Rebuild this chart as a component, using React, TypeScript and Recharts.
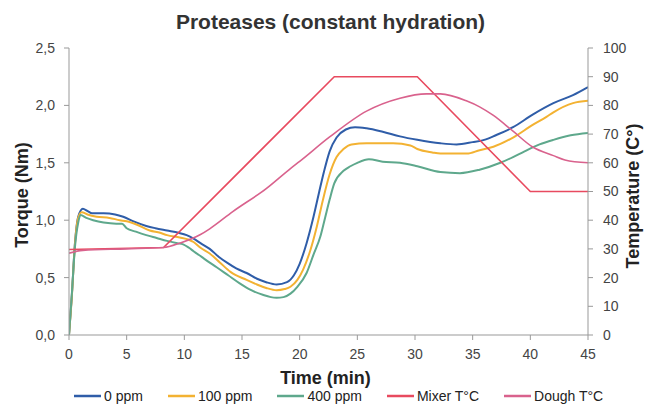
import React from 'react';
import { ComposedChart, Line, XAxis, YAxis, Legend } from 'recharts';

const timeTicks = [0, 5, 10, 15, 20, 25, 30, 35, 40, 45];
const torqueTicks = [0, 0.5, 1, 1.5, 2, 2.5];
const tempTicks = [0, 10, 20, 30, 40, 50, 60, 70, 80, 90, 100];

const seriesNames = ['0 ppm', '100 ppm', '400 ppm', 'Mixer T°C', 'Dough T°C'];
const seriesColors = ['#2f5da8', '#f3b232', '#5ea88c', '#e84a5f', '#d9628d'];

// 0 ppm torque
const time0 = [0, 0.25, 0.5, 0.8, 1.2, 1.6, 2.0, 3.0, 4.0, 4.7, 5.6, 6.7, 7.5, 8.5, 9.5, 10.2, 10.8, 11.4, 12.2, 13.0, 13.7, 14.5, 15.4, 16.3, 17.1, 18.0, 18.9, 19.5, 20.0, 20.6, 21.2, 21.7, 22.1, 22.6, 23.2, 24.0, 24.8, 25.8, 27.2, 28.7, 30.2, 32.2, 33.6, 35.0, 36.0, 37.0, 38.5, 40.2, 42.0, 43.7, 45.0];
const torque0 = [0, 0.35, 0.78, 1.03, 1.10, 1.08, 1.06, 1.06, 1.05, 1.03, 0.99, 0.95, 0.93, 0.91, 0.89, 0.87, 0.84, 0.80, 0.75, 0.68, 0.63, 0.58, 0.54, 0.49, 0.46, 0.44, 0.46, 0.52, 0.62, 0.80, 1.03, 1.25, 1.42, 1.60, 1.72, 1.79, 1.81, 1.80, 1.77, 1.73, 1.70, 1.67, 1.66, 1.68, 1.70, 1.74, 1.81, 1.92, 2.02, 2.09, 2.16];

// 100 ppm torque
const time100 = [0, 0.25, 0.5, 0.8, 1.1, 1.6, 2.4, 3.5, 4.4, 5.0, 5.9, 7.0, 7.9, 8.5, 9.6, 10.4, 10.8, 11.4, 12.2, 13.1, 14.0, 15.4, 16.3, 17.1, 18.0, 18.7, 19.2, 19.8, 20.3, 20.9, 21.5, 22.0, 22.6, 23.2, 23.8, 24.5, 25.8, 28.1, 29.6, 30.2, 31.5, 32.2, 34.5, 35.6, 36.8, 38.5, 40.2, 41.4, 42.0, 43.7, 45.0];
const torque100 = [0, 0.34, 0.77, 1.02, 1.07, 1.05, 1.03, 1.02, 1.00, 0.99, 0.96, 0.91, 0.89, 0.87, 0.85, 0.83, 0.81, 0.76, 0.71, 0.63, 0.55, 0.48, 0.44, 0.41, 0.39, 0.40, 0.42, 0.48, 0.57, 0.73, 0.95, 1.17, 1.40, 1.55, 1.62, 1.66, 1.67, 1.67, 1.65, 1.62, 1.59, 1.58, 1.58, 1.61, 1.64, 1.72, 1.83, 1.90, 1.94, 2.02, 2.04];

// 400 ppm torque
const time400 = [0, 0.23, 0.52, 0.8, 1.0, 1.5, 2.1, 3.0, 4.1, 4.6, 5.0, 5.8, 6.7, 7.6, 8.5, 9.4, 9.9, 10.4, 10.8, 11.5, 12.2, 12.8, 13.8, 14.8, 15.8, 16.8, 17.5, 18.0, 18.6, 19.2, 19.8, 20.6, 21.2, 21.8, 22.2, 22.6, 23.0, 23.8, 24.4, 25.0, 26.0, 27.2, 28.7, 30.2, 32.2, 33.9, 35.6, 37.4, 38.5, 39.5, 40.8, 42.0, 43.5, 45.0];
const torque400 = [0, 0.33, 0.77, 0.98, 1.045, 1.02, 1.00, 0.98, 0.97, 0.97, 0.93, 0.90, 0.87, 0.845, 0.82, 0.80, 0.79, 0.76, 0.73, 0.68, 0.63, 0.59, 0.52, 0.45, 0.39, 0.35, 0.33, 0.325, 0.33, 0.36, 0.42, 0.54, 0.70, 0.86, 1.02, 1.18, 1.32, 1.43, 1.47, 1.50, 1.53, 1.51, 1.50, 1.47, 1.42, 1.41, 1.44, 1.50, 1.55, 1.60, 1.66, 1.70, 1.74, 1.76];

// Mixer temperature
const timeMixer = [0, 8.2, 23.0, 30.2, 40.0, 45.0];
const tempMixer = [29.8, 30.5, 90, 90, 50, 50];

// Dough temperature
const timeDough = [0, 1.2, 5.0, 8.2, 9.6, 11.4, 12.2, 14.2, 17.1, 19.2, 20.0, 22.6, 25.8, 28.7, 31.0, 32.2, 34.5, 35.6, 36.8, 38.5, 40.2, 42.0, 43.0, 45.0];
const tempDough = [28.5, 29.5, 30, 30.5, 32, 35, 37, 43, 51, 58, 60.5, 69, 78, 82.5, 84, 84, 81.5, 79.5, 76.5, 71, 65.5, 62.5, 61, 60];

const zip = (ts: number[], vs: number[]) => ts.map((t, i) => ({ t, v: vs[i] }));

const seriesData = [
  zip(time0, torque0),
  zip(time100, torque100),
  zip(time400, torque400),
  zip(timeMixer, tempMixer),
  zip(timeDough, tempDough),
];
const seriesAxis = ['left', 'left', 'left', 'right', 'right'];
const seriesCurve = ['monotone', 'monotone', 'monotone', 'linear', 'monotone'];

const FONT = '"Liberation Sans", Arial, Helvetica, sans-serif';
const axisTitleStyle = { fontSize: 18, fontWeight: 'bold' as const, fill: '#222', fontFamily: FONT };

const LegendContent = () => (
  <div style={{ display: 'flex', alignItems: 'center', gap: 25, fontFamily: FONT, fontSize: 14, color: '#222', height: 21 }}>
    {seriesNames.map((n, i) => (
      <div key={n} style={{ display: 'flex', alignItems: 'center' }}>
        <svg width={27} height={4} style={{ marginRight: 3 }}>
          <line x1={0} y1={2} x2={27} y2={2} stroke={seriesColors[i]} strokeWidth={2.5} />
        </svg>
        <span>{n}</span>
      </div>
    ))}
  </div>
);

export default function App() {
  return (
    <div style={{ position: 'absolute', left: 0, top: 0, width: 645, height: 406, background: '#fff', fontFamily: FONT }}>
      <div style={{ position: 'absolute', left: 8, top: 9, width: 645, textAlign: 'center', fontSize: 21, fontWeight: 'bold', color: '#333', lineHeight: '26px' }}>
        Proteases (constant hydration)
      </div>
      <ComposedChart width={645} height={406} margin={{ top: 48, right: 0, bottom: 0, left: 0 }}>
        <XAxis
          type="number"
          dataKey="t"
          domain={[0, 45]}
          ticks={timeTicks}
          allowDataOverflow
          height={50}
          tickSize={5}
          tickMargin={9}
          stroke="#999"
          tick={{ fill: '#444', fontSize: 14, fontFamily: FONT }}
          label={{
            content: (p: any) => (
              <text x={p.viewBox.x + p.viewBox.width / 2 - 3} y={378} textAnchor="middle" dominantBaseline="central" style={axisTitleStyle}>
                Time (min)
              </text>
            ),
          }}
        />
        <YAxis
          yAxisId="left"
          domain={[0, 2.5]}
          ticks={torqueTicks}
          width={69}
          tickSize={5}
          tickMargin={9}
          stroke="#999"
          tick={{ fill: '#444', fontSize: 14, fontFamily: FONT }}
          tickFormatter={(v: number) => v.toFixed(1).replace('.', ',')}
          label={{
            content: () => (
              <text x={22} y={195} transform="rotate(-90 22 195)" textAnchor="middle" dominantBaseline="central" style={axisTitleStyle}>
                Torque (Nm)
              </text>
            ),
          }}
        />
        <YAxis
          yAxisId="right"
          orientation="right"
          domain={[0, 100]}
          ticks={tempTicks}
          width={57}
          tickSize={5}
          tickMargin={10}
          stroke="#999"
          tick={{ fill: '#444', fontSize: 14, fontFamily: FONT }}
          label={{
            content: () => (
              <text x={633} y={196} transform="rotate(-90 633 196)" textAnchor="middle" dominantBaseline="central" style={axisTitleStyle}>
                Temperature (C°)
              </text>
            ),
          }}
        />
        <Legend
          verticalAlign="bottom"
          height={21}
          content={() => <LegendContent />}
          wrapperStyle={{ left: 74, width: 571 }}
        />
        {seriesData.map((d, i) => (
          <Line
            key={seriesNames[i]}
            data={d}
            dataKey="v"
            name={seriesNames[i]}
            yAxisId={seriesAxis[i]}
            type={seriesCurve[i] as any}
            stroke={seriesColors[i]}
            strokeWidth={i < 3 ? 2 : 1.6}
            dot={false}
            activeDot={false}
            isAnimationActive={false}
          />
        ))}
      </ComposedChart>
    </div>
  );
}
